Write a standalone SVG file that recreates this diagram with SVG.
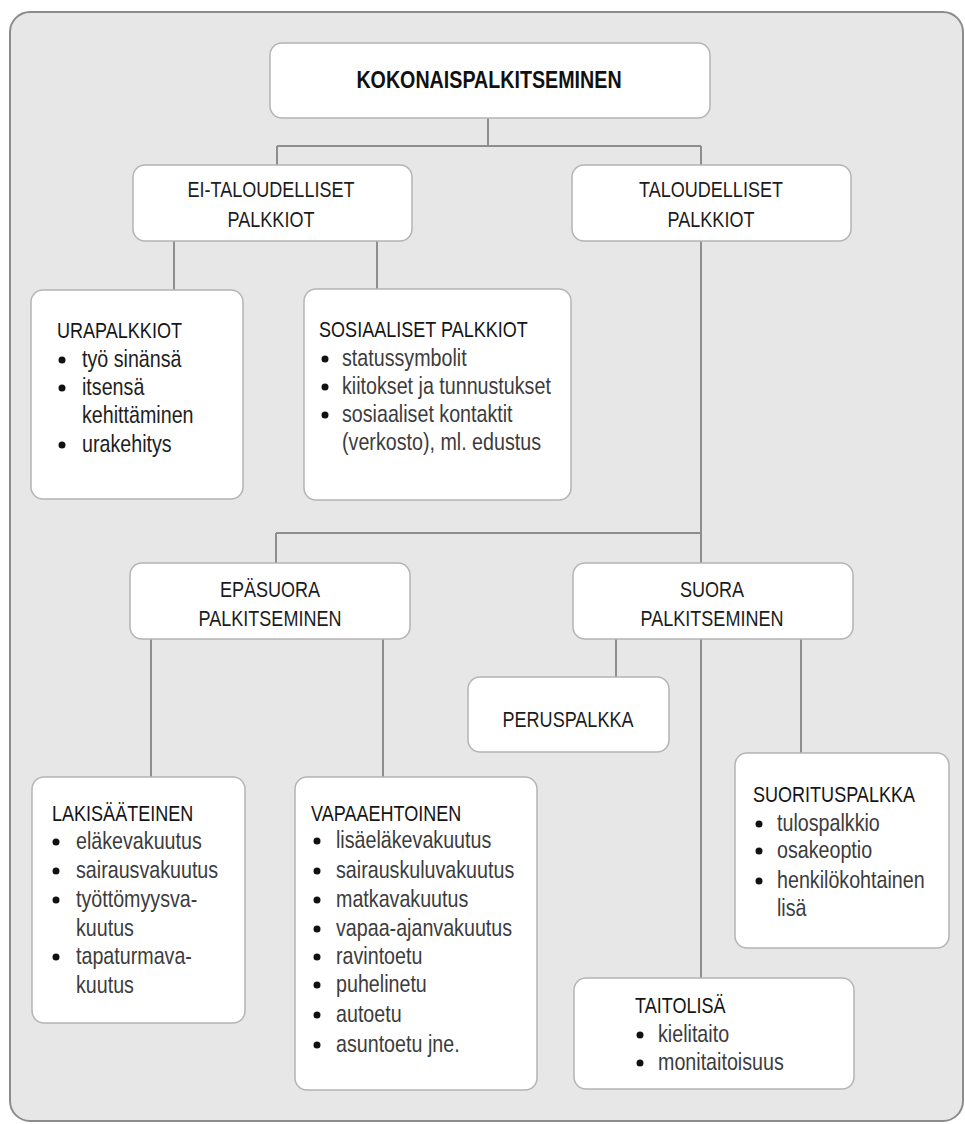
<svg xmlns="http://www.w3.org/2000/svg" width="965" height="1124" viewBox="0 0 965 1124">
<style>
.panel{fill:#e6e7e6;stroke:#8c8c8c;stroke-width:2}
.box{fill:#ffffff;stroke:#b4b4b4;stroke-width:1.5}
.conn{fill:none;stroke:#8e8e8e;stroke-width:2}
text{font-family:"Liberation Sans",Arial,sans-serif}
.h{font-size:22px;fill:#1c1c1c;text-anchor:middle}
.top{font-size:24px;font-weight:bold;fill:#111;text-anchor:middle}
.t{font-size:22px;fill:#151515}
.b{font-size:24px;fill:#3c3c3c}
.bd{font-size:24px;fill:#1e1e1e}
.dot{fill:#111}
</style>
<rect class="panel" x="10" y="12" width="953" height="1109" rx="20" ry="20"/>
<g id="connectors">
<path class="conn" d="M488 118V146M277 146H701M277 146V165M701 146V165"/>
<path class="conn" d="M174 241V290M377 241V290"/>
<path class="conn" d="M701 241V563M276 533H701M276 533V563"/>
<path class="conn" d="M151 639V777M383 639V777"/>
<path class="conn" d="M616 639V677M701 639V978M801 639V753"/>
</g>
<g id="kokonaispalkitseminen">
<rect class="box" x="270" y="43" width="440" height="75" rx="12"/>
<g transform="translate(489 0) scale(0.82 1)"><text class="top" x="0" y="88">KOKONAISPALKITSEMINEN</text></g>
</g>
<g id="ei-taloudelliset">
<rect class="box" x="133" y="165" width="279" height="76" rx="12"/>
<g transform="translate(271 0) scale(0.82 1)">
<text class="h" x="0" y="197">EI-TALOUDELLISET</text>
<text class="h" x="0" y="227">PALKKIOT</text>
</g>
</g>
<g id="taloudelliset">
<rect class="box" x="572" y="165" width="279" height="76" rx="12"/>
<g transform="translate(711 0) scale(0.82 1)">
<text class="h" x="0" y="197">TALOUDELLISET</text>
<text class="h" x="0" y="227">PALKKIOT</text>
</g>
</g>
<g id="urapalkkiot">
<rect class="box" x="31" y="290" width="212" height="209" rx="12"/>
<circle class="dot" cx="62" cy="360" r="3.5"/>
<circle class="dot" cx="62" cy="388" r="3.5"/>
<circle class="dot" cx="62" cy="445" r="3.5"/>
<g transform="translate(82 0) scale(0.82 1)">
<text class="t" x="-30.5" y="338">URAPALKKIOT</text>
<text class="bd" x="0" y="367">työ sinänsä</text>
<text class="bd" x="0" y="395">itsensä</text>
<text class="bd" x="0" y="423">kehittäminen</text>
<text class="bd" x="0" y="452">urakehitys</text>
</g>
</g>
<g id="sosiaaliset">
<rect class="box" x="304" y="289" width="267" height="211" rx="12"/>
<circle class="dot" cx="325" cy="359" r="3.5"/>
<circle class="dot" cx="325" cy="387" r="3.5"/>
<circle class="dot" cx="325" cy="415" r="3.5"/>
<g transform="translate(342 0) scale(0.82 1)">
<text class="t" x="-28" y="337">SOSIAALISET PALKKIOT</text>
<text class="b" x="0" y="366">statussymbolit</text>
<text class="b" x="0" y="394">kiitokset ja tunnustukset</text>
<text class="b" x="0" y="422">sosiaaliset kontaktit</text>
<text class="b" x="0" y="450">(verkosto), ml. edustus</text>
</g>
</g>
<g id="epasuora">
<rect class="box" x="130" y="563" width="280" height="76" rx="12"/>
<g transform="translate(270 0) scale(0.82 1)">
<text class="h" x="0" y="597">EPÄSUORA</text>
<text class="h" x="0" y="626">PALKITSEMINEN</text>
</g>
</g>
<g id="suora">
<rect class="box" x="573" y="563" width="280" height="76" rx="12"/>
<g transform="translate(712 0) scale(0.82 1)">
<text class="h" x="0" y="597">SUORA</text>
<text class="h" x="0" y="626">PALKITSEMINEN</text>
</g>
</g>
<g id="peruspalkka">
<rect class="box" x="468" y="677" width="201" height="75" rx="12"/>
<g transform="translate(568 0) scale(0.82 1)">
<text class="h" x="0" y="727">PERUSPALKKA</text>
</g>
</g>
<g id="lakisaateinen">
<rect class="box" x="32" y="777" width="213" height="246" rx="12"/>
<circle class="dot" cx="56" cy="842" r="3.5"/>
<circle class="dot" cx="56" cy="871" r="3.5"/>
<circle class="dot" cx="56" cy="900" r="3.5"/>
<circle class="dot" cx="56" cy="957" r="3.5"/>
<g transform="translate(76 0) scale(0.82 1)">
<text class="t" x="-29.3" y="821">LAKISÄÄTEINEN</text>
<text class="b" x="0" y="849">eläkevakuutus</text>
<text class="b" x="0" y="878">sairausvakuutus</text>
<text class="b" x="0" y="907">työttömyysva-</text>
<text class="b" x="0" y="936">kuutus</text>
<text class="b" x="0" y="964">tapaturmava-</text>
<text class="b" x="0" y="993">kuutus</text>
</g>
</g>
<g id="vapaaehtoinen">
<rect class="box" x="295" y="777" width="242" height="313" rx="12"/>
<circle class="dot" cx="317" cy="841" r="3.5"/>
<circle class="dot" cx="317" cy="871" r="3.5"/>
<circle class="dot" cx="317" cy="900" r="3.5"/>
<circle class="dot" cx="317" cy="929" r="3.5"/>
<circle class="dot" cx="317" cy="957" r="3.5"/>
<circle class="dot" cx="317" cy="985" r="3.5"/>
<circle class="dot" cx="317" cy="1015" r="3.5"/>
<circle class="dot" cx="317" cy="1045" r="3.5"/>
<g transform="translate(336 0) scale(0.82 1)">
<text class="t" x="-30.5" y="821">VAPAAEHTOINEN</text>
<text class="b" x="0" y="848">lisäeläkevakuutus</text>
<text class="b" x="0" y="878">sairauskuluvakuutus</text>
<text class="b" x="0" y="907">matkavakuutus</text>
<text class="b" x="0" y="936">vapaa-ajanvakuutus</text>
<text class="b" x="0" y="964">ravintoetu</text>
<text class="b" x="0" y="992">puhelinetu</text>
<text class="b" x="0" y="1022">autoetu</text>
<text class="b" x="0" y="1052">asuntoetu jne.</text>
</g>
</g>
<g id="suorituspalkka">
<rect class="box" x="735" y="753" width="214" height="195" rx="12"/>
<circle class="dot" cx="759" cy="824" r="3.5"/>
<circle class="dot" cx="759" cy="851" r="3.5"/>
<circle class="dot" cx="759" cy="881" r="3.5"/>
<g transform="translate(777 0) scale(0.82 1)">
<text class="t" x="-29.3" y="802">SUORITUSPALKKA</text>
<text class="b" x="0" y="831">tulospalkkio</text>
<text class="b" x="0" y="858">osakeoptio</text>
<text class="b" x="0" y="888">henkilökohtainen</text>
<text class="b" x="0" y="916">lisä</text>
</g>
</g>
<g id="taitolisa">
<rect class="box" x="574" y="978" width="280" height="111" rx="12"/>
<circle class="dot" cx="640" cy="1035" r="3.5"/>
<circle class="dot" cx="640" cy="1063" r="3.5"/>
<g transform="translate(658 0) scale(0.82 1)">
<text class="t" x="-28" y="1013">TAITOLISÄ</text>
<text class="b" x="0" y="1042">kielitaito</text>
<text class="b" x="0" y="1070">monitaitoisuus</text>
</g>
</g>
</svg>
